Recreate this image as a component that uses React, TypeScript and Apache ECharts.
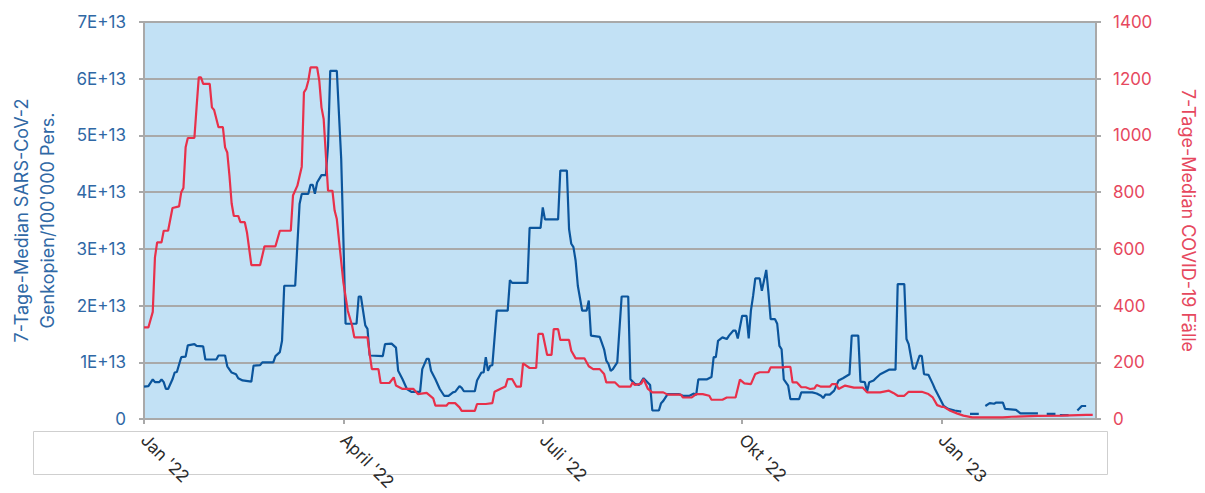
import React, { useEffect, useRef } from 'react';
import * as echarts from 'echarts';

// x = days since 1 Jan 2022
const xTickDays = [0, 91, 182, 273, 364];
const xTickLabels = ["Jan '22", "April '22", "Juli '22", "Okt '22", "Jan '23"];
const xMaxDay = 434.5;

const leftAxisName = "7-Tage-Median SARS-CoV-2\nGenkopien/100'000 Pers.";
const rightAxisName = '7-Tage-Median COVID-19 Fälle';

// Genkopien in units of 1E+13 (null = missing measurement)
const genkopienUnit = 1e13;
const genkopien: [number, number | null][] = [
  [0, 0.57], [2, 0.58], [4, 0.70], [5, 0.65], [7, 0.65], [8, 0.70], [9, 0.65], [10, 0.53], [11, 0.53],
  [13, 0.70], [14, 0.82], [15, 0.83], [17, 1.09], [19, 1.10], [20, 1.30], [23, 1.32], [24, 1.29],
  [27, 1.28], [28, 1.05], [33, 1.05], [34, 1.12], [37, 1.12], [38, 0.93], [40, 0.82], [42, 0.79],
  [43, 0.72], [45, 0.68], [49, 0.66], [50, 0.94], [53, 0.95], [54, 1.00], [59, 1.00], [60, 1.11],
  [62, 1.18], [63, 1.38], [64, 2.35], [69, 2.35], [71, 3.79], [72, 3.97], [75, 3.97], [76, 4.13],
  [77, 4.13], [78, 3.97], [79, 4.17], [81, 4.30], [83, 4.30], [84, 4.82], [85, 6.14], [88, 6.14],
  [90, 4.59], [91, 3.17], [92, 1.68], [97, 1.68], [98, 2.16], [99, 2.16], [101, 1.65], [102, 1.59],
  [103, 1.12], [109, 1.11], [110, 1.32], [113, 1.33], [115, 1.26], [116, 0.85], [118, 0.70],
  [120, 0.53], [122, 0.48], [126, 0.48], [127, 0.88], [129, 1.06], [130, 1.06], [131, 0.85],
  [133, 0.70], [135, 0.53], [137, 0.41], [139, 0.41], [141, 0.47], [142, 0.48], [144, 0.58],
  [145, 0.55], [146, 0.49], [151, 0.49], [152, 0.68], [154, 0.82], [155, 0.82], [156, 1.09],
  [157, 0.85], [158, 0.94], [159, 0.95], [161, 1.91], [166, 1.91], [167, 2.45], [168, 2.40],
  [175, 2.40], [176, 3.37], [181, 3.37], [182, 3.73], [183, 3.52], [189, 3.52], [190, 4.38],
  [193, 4.38], [194, 3.35], [195, 3.09], [196, 3.03], [197, 2.79], [198, 2.35], [200, 1.91],
  [202, 1.91], [203, 2.09], [204, 1.47], [208, 1.45], [210, 1.23], [211, 1.03], [212, 0.97],
  [213, 0.85], [214, 0.88], [216, 1.00], [218, 2.16], [221, 2.16], [222, 0.70], [224, 0.62],
  [226, 0.60], [228, 0.72], [229, 0.68], [230, 0.64], [231, 0.60], [232, 0.15], [235, 0.15],
  [236, 0.28], [237, 0.32], [239, 0.44], [244, 0.44], [246, 0.41], [249, 0.41], [251, 0.45],
  [252, 0.42], [253, 0.70], [257, 0.70], [259, 0.74], [260, 1.09], [261, 1.09], [262, 1.38],
  [264, 1.44], [266, 1.41], [267, 1.47], [269, 1.56], [270, 1.56], [271, 1.42], [273, 1.82],
  [275, 1.82], [276, 1.42], [277, 1.91], [278, 2.17], [279, 2.48], [281, 2.48], [282, 2.26],
  [284, 2.63], [285, 2.23], [286, 1.76], [288, 1.76], [289, 1.68], [290, 1.29], [291, 1.23],
  [292, 0.70], [294, 0.59], [295, 0.35], [299, 0.35], [300, 0.47], [305, 0.47], [307, 0.45],
  [309, 0.41], [310, 0.37], [311, 0.43], [313, 0.43], [315, 0.50], [317, 0.68], [319, 0.72],
  [322, 0.79], [323, 1.47], [326, 1.47], [327, 0.66], [329, 0.65], [330, 0.48], [331, 0.65],
  [333, 0.68], [334, 0.72], [336, 0.79], [338, 0.83], [340, 0.87], [343, 0.87], [344, 2.38],
  [347, 2.38], [348, 1.41], [349, 1.32], [351, 0.89], [352, 0.89], [354, 1.12], [355, 1.11],
  [356, 0.79], [358, 0.78], [360, 0.62], [361, 0.53], [363, 0.38], [365, 0.23], [367, 0.18],
  [370, 0.15], [373, 0.13], [375, null], [377, 0.09], [381, 0.09], [383, null], [384, 0.23],
  [386, 0.28], [388, 0.27], [389, 0.29], [392, 0.29], [393, 0.18], [398, 0.16], [400, 0.10],
  [408, 0.10], [410, null], [412, 0.09], [416, 0.09], [417, null], [418, 0.07], [422, 0.07],
  [424, null], [426, 0.15], [428, 0.23], [430, 0.23],
];

// 7-Tage-Median COVID-19 Fälle
const faelle: [number, number][] = [
  [0, 323], [2, 323], [4, 378], [5, 570], [6, 623], [8, 623], [9, 664], [11, 664], [13, 744],
  [16, 750], [17, 800], [18, 815], [19, 958], [20, 991], [23, 991], [24, 1100], [25, 1205],
  [26, 1205], [27, 1182], [30, 1182], [31, 1099], [32, 1090], [34, 1029], [36, 1029], [37, 958],
  [38, 940], [39, 858], [40, 760], [41, 716], [43, 716], [44, 694], [46, 694], [47, 658], [49, 543],
  [53, 543], [55, 609], [60, 609], [62, 664], [67, 664], [68, 788], [70, 823], [72, 890], [73, 1152],
  [74, 1164], [75, 1193], [76, 1240], [79, 1240], [80, 1193], [81, 1099], [82, 1058], [84, 805],
  [86, 805], [87, 735], [88, 705], [91, 482], [93, 382], [95, 329], [96, 288], [102, 288], [103, 229],
  [104, 176], [107, 176], [108, 127], [112, 127], [114, 147], [115, 118], [118, 106], [123, 106],
  [125, 88], [129, 92], [132, 73], [133, 47], [138, 47], [139, 56], [142, 56], [144, 41], [145, 29],
  [151, 29], [152, 53], [156, 53], [159, 56], [160, 96], [163, 108], [165, 115], [166, 141],
  [168, 141], [170, 114], [172, 114], [173, 196], [176, 180], [179, 180], [180, 300], [182, 300],
  [184, 226], [186, 226], [187, 317], [189, 317], [190, 279], [194, 279], [195, 241], [197, 214],
  [201, 214], [203, 186], [205, 176], [208, 176], [210, 159], [211, 129], [215, 129], [217, 114],
  [222, 114], [223, 129], [224, 120], [227, 125], [228, 141], [230, 106], [232, 94], [237, 94],
  [239, 86], [245, 86], [246, 76], [250, 76], [252, 88], [255, 88], [258, 82], [259, 68], [264, 68],
  [266, 76], [270, 76], [272, 139], [274, 126], [277, 123], [279, 159], [281, 165], [285, 165],
  [286, 182], [292, 182], [293, 184], [295, 184], [296, 129], [298, 129], [300, 112], [302, 112],
  [304, 106], [306, 108], [307, 120], [309, 114], [313, 114], [314, 123], [316, 123], [317, 106],
  [320, 118], [324, 111], [328, 111], [330, 94], [336, 94], [340, 100], [342, 92], [344, 82],
  [347, 82], [349, 96], [355, 96], [358, 88], [360, 76], [362, 49], [364, 43], [365, 43], [368, 29],
  [371, 20], [374, 12], [378, 6], [392, 6], [396, 8], [408, 11], [419, 12], [430, 15], [433, 15],
];

const FONT = 'Inter, "Open Sans", sans-serif';
const BLUE_LINE = '#0b559c';
const RED_LINE = '#e8304a';
const BLUE_TEXT = '#2f68a5';
const RED_TEXT = '#e6485e';
const GRID_GRAY = '#a9a9a9';

export default function App() {
  const ref = useRef<HTMLDivElement>(null);

  useEffect(() => {
    if (!ref.current) return;
    const chart = echarts.init(ref.current, undefined, { renderer: 'svg' });
    const blueData = genkopien.map(([d, v]) => [d, v === null ? null : v * genkopienUnit]);
    chart.setOption({
      animation: false,
      textStyle: { fontFamily: FONT },
      grid: {
        left: 141,
        right: 108,
        top: 22,
        bottom: 73,
        show: true,
        backgroundColor: '#c2e1f5',
        borderWidth: 0,
      },
      graphic: [
        {
          type: 'rect',
          silent: true,
          z: -1,
          shape: { x: 33.5, y: 431.5, width: 1074, height: 43 },
          style: { fill: 'none', stroke: '#cfcfcf', lineWidth: 1 },
        },
      ],
      xAxis: {
        type: 'value',
        min: 0,
        max: xMaxDay,
        splitLine: { show: false },
        axisLine: { show: true, onZero: false, lineStyle: { color: GRID_GRAY, width: 2 } },
        axisTick: {
          show: true,
          length: 5,
          customValues: xTickDays,
          lineStyle: { color: GRID_GRAY, width: 2 },
        },
        axisLabel: {
          customValues: xTickDays,
          rotate: -45,
          margin: 18,
          fontSize: 17,
          color: '#2b2b2b',
          fontFamily: FONT,
          formatter: (v: number) => {
            const i = xTickDays.indexOf(Math.round(v));
            return i >= 0 ? xTickLabels[i] : '';
          },
        },
      },
      yAxis: [
        {
          type: 'value',
          position: 'left',
          min: 0,
          max: 7e13,
          interval: 1e13,
          name: leftAxisName,
          nameLocation: 'middle',
          nameGap: 84,
          nameTextStyle: { color: BLUE_TEXT, fontSize: 18, lineHeight: 26, fontFamily: FONT },
          axisLine: { show: true, lineStyle: { color: GRID_GRAY, width: 2 } },
          axisTick: { show: true, length: 5, lineStyle: { color: GRID_GRAY, width: 2 } },
          splitLine: { show: true, lineStyle: { color: GRID_GRAY, width: 2 } },
          axisLabel: {
            margin: 18,
            fontSize: 17,
            color: BLUE_TEXT,
            fontFamily: FONT,
            formatter: (v: number) => (v === 0 ? '0' : `${Math.round(v / 1e13)}E+13`),
          },
        },
        {
          type: 'value',
          position: 'right',
          min: 0,
          max: 1400,
          interval: 200,
          name: rightAxisName,
          nameLocation: 'middle',
          nameRotate: -90,
          nameGap: 83,
          nameTextStyle: { color: RED_TEXT, fontSize: 18, fontFamily: FONT },
          axisLine: { show: true, lineStyle: { color: GRID_GRAY, width: 2 } },
          axisTick: { show: true, length: 5, lineStyle: { color: GRID_GRAY, width: 2 } },
          splitLine: { show: false },
          axisLabel: {
            margin: 17,
            fontSize: 17,
            color: RED_TEXT,
            fontFamily: FONT,
            formatter: (v: number) => String(v),
          },
        },
      ],
      series: [
        {
          type: 'line',
          name: 'Genkopien',
          yAxisIndex: 0,
          data: blueData,
          showSymbol: false,
          symbol: 'none',
          connectNulls: false,
          lineStyle: { color: BLUE_LINE, width: 2.2 },
          itemStyle: { color: BLUE_LINE },
        },
        {
          type: 'line',
          name: 'Fälle',
          yAxisIndex: 1,
          data: faelle,
          showSymbol: false,
          symbol: 'none',
          lineStyle: { color: RED_LINE, width: 2.2 },
          itemStyle: { color: RED_LINE },
        },
      ],
    });
    return () => chart.dispose();
  }, []);

  return (
    <div
      ref={ref}
      style={{ position: 'fixed', left: 0, top: 0, width: 1205, height: 493, background: '#ffffff' }}
    />
  );
}
